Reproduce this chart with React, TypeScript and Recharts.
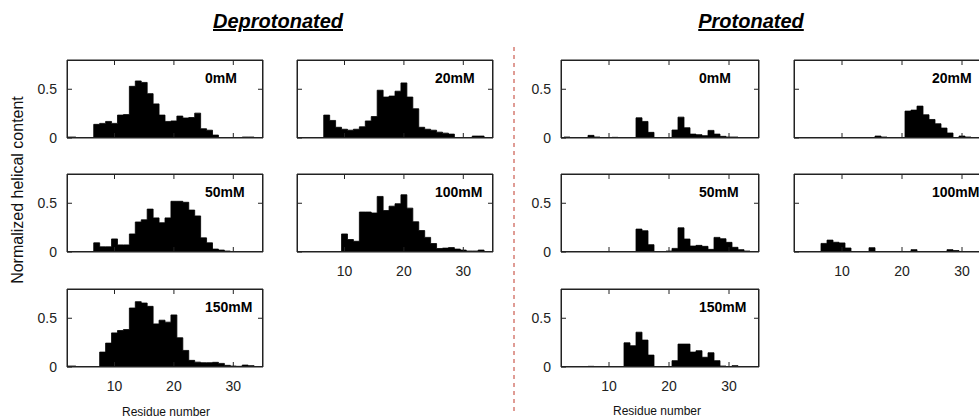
import React from "react";
import { AreaChart, Area, XAxis, YAxis } from "recharts";

const FONT = "'Liberation Sans', Arial, sans-serif";

// residue numbers, one bin per residue
const residues = [
  1, 2, 3, 4, 5, 6, 7, 8, 9, 10, 11, 12, 13, 14, 15, 16, 17, 18, 19, 20, 21, 22, 23, 24, 25, 26, 27, 28, 29,
  30, 31, 32, 33, 34, 35,
];

// deprotonated
const depro0 = [
  0, 0.01, 0.01, 0, 0, 0, 0.14, 0.15, 0.17, 0.15, 0.235, 0.24, 0.53, 0.585, 0.57, 0.455, 0.35, 0.235, 0.17,
  0.175, 0.225, 0.205, 0.21, 0.255, 0.095, 0.08, 0.03, 0, 0, 0, 0, 0.01, 0.01, 0, 0,
];
const depro20 = [
  0, 0, 0, 0, 0, 0, 0.235, 0.18, 0.11, 0.09, 0.08, 0.09, 0.115, 0.175, 0.22, 0.49, 0.42, 0.43, 0.48, 0.565,
  0.42, 0.3, 0.11, 0.09, 0.08, 0.06, 0.05, 0.04, 0, 0, 0, 0.02, 0.02, 0, 0,
];
const depro50 = [
  0, 0, 0, 0, 0, 0, 0.094, 0.053, 0.053, 0.134, 0.073, 0.073, 0.185, 0.308, 0.33, 0.44, 0.35, 0.3, 0.35, 0.52,
  0.52, 0.51, 0.43, 0.37, 0.145, 0.094, 0.03, 0.02, 0.01, 0, 0, 0, 0, 0, 0,
];
const depro100 = [
  0, 0, 0, 0, 0, 0, 0, 0, 0, 0.185, 0.128, 0.11, 0.41, 0.41, 0.4, 0.57, 0.425, 0.47, 0.495, 0.587, 0.45, 0.31,
  0.22, 0.15, 0.087, 0.036, 0.04, 0.045, 0.03, 0.02, 0.01, 0.01, 0.02, 0, 0,
];
const depro150 = [
  0, 0.01, 0.01, 0, 0, 0, 0, 0.153, 0.245, 0.35, 0.374, 0.384, 0.605, 0.67, 0.656, 0.622, 0.442, 0.48, 0.46,
  0.534, 0.3, 0.17, 0.068, 0.05, 0.044, 0.044, 0.048, 0.037, 0.017, 0.01, 0.007, 0.02, 0.014, 0, 0,
];

// protonated
const pro0 = [
  0, 0, 0.01, 0, 0, 0, 0.027, 0.01, 0, 0, 0.007, 0, 0, 0, 0.207, 0.17, 0.058, 0, 0, 0, 0.082, 0.214, 0.105,
  0.04, 0.034, 0.024, 0.078, 0.04, 0.017, 0.01, 0.01, 0, 0, 0, 0,
];
const pro20 = [
  0, 0, 0, 0, 0, 0, 0, 0, 0, 0, 0, 0, 0, 0, 0, 0.02, 0.01, 0, 0, 0, 0.276, 0.286, 0.327, 0.238, 0.19, 0.146,
  0.102, 0.051, 0, 0.02, 0.01, 0, 0, 0, 0,
];
const pro50 = [
  0, 0, 0, 0, 0, 0, 0, 0, 0, 0, 0, 0, 0, 0, 0.235, 0.218, 0.075, 0, 0, 0.01, 0.037, 0.248, 0.133, 0.061, 0.068,
  0.058, 0.027, 0.15, 0.136, 0.099, 0.048, 0.024, 0.01, 0, 0,
];
const pro100 = [
  0, 0, 0, 0, 0, 0, 0.088, 0.122, 0.1, 0.093, 0.041, 0, 0, 0, 0.044, 0, 0, 0, 0, 0, 0, 0.024, 0, 0, 0, 0, 0,
  0.024, 0.015, 0, 0, 0, 0, 0, 0,
];
const pro150 = [
  0, 0, 0, 0, 0, 0, 0.007, 0, 0, 0, 0, 0, 0.248, 0.218, 0.357, 0.276, 0.122, 0, 0, 0, 0.065, 0.235, 0.235,
  0.153, 0.167, 0.1, 0.146, 0.065, 0.01, 0, 0.014, 0, 0, 0, 0,
];

const xTicks = [10, 20, 30];
const yTicks = [0, 0.5];

const BOX_H = 78;
const Y_W = 40;
const X_H = 30;

// keeps the tick line but draws no label
const noLabel = () => <g />;

type PanelProps = {
  values: number[];
  label: string;
  left: number;
  top: number;
  boxW: number;
  yLabels: boolean;
  xLabels: boolean;
};

function Panel({ values, label, left, top, boxW, yLabels, xLabels }: PanelProps) {
  const rows = residues.map((r, i) => ({ res: r, v: values[i] }));
  const w = Y_W + boxW + 1;
  const h = 1 + BOX_H + X_H;
  const tickStyle = { fill: "#222", fontSize: 14, fontFamily: FONT };
  return (
    <div style={{ position: "absolute", left: left - Y_W, top: top - 1, width: w, height: h }}>
      <AreaChart width={w} height={h} data={rows} margin={{ top: 0, right: 0, bottom: 0, left: 0 }}>
        <XAxis
          xAxisId="b"
          dataKey="res"
          type="number"
          domain={[2, 35]}
          allowDataOverflow
          ticks={xTicks}
          tickSize={-5}
          tickMargin={19}
          height={X_H}
          stroke="#222"
          tick={xLabels ? tickStyle : noLabel}
        />
        <XAxis
          xAxisId="t"
          dataKey="res"
          type="number"
          orientation="top"
          domain={[2, 35]}
          allowDataOverflow
          ticks={xTicks}
          tickSize={-5}
          height={1}
          stroke="#222"
          tick={noLabel}
        />
        <YAxis
          yAxisId="l"
          type="number"
          domain={[0, 0.8]}
          allowDataOverflow
          ticks={yTicks}
          tickSize={-5}
          tickMargin={15}
          width={Y_W}
          stroke="#222"
          tick={yLabels ? tickStyle : noLabel}
        />
        <YAxis
          yAxisId="r"
          type="number"
          orientation="right"
          domain={[0, 0.8]}
          allowDataOverflow
          ticks={[0.5]}
          tickSize={-5}
          width={1}
          stroke="#222"
          tick={noLabel}
        />
        <Area
          xAxisId="b"
          yAxisId="l"
          dataKey="v"
          type="step"
          fill="#000"
          fillOpacity={1}
          stroke="#000"
          strokeWidth={0.8}
          isAnimationActive={false}
        />
      </AreaChart>
      <svg
        width={w}
        height={h}
        style={{ position: "absolute", left: 0, top: 0, pointerEvents: "none" }}
      >
        <rect x={Y_W + 0.5} y={1.5} width={boxW - 1} height={BOX_H - 1} fill="none" stroke="#222" strokeWidth={1} />
        <text
          x={Y_W + 138}
          y={1 + 17.5}
          dominantBaseline="central"
          fontFamily={FONT}
          fontWeight="bold"
          fontSize={14}
          fill="#000"
        >
          {label}
        </text>
      </svg>
    </div>
  );
}

const colL1 = 67;
const colL2 = 297;
const colR1 = 561;
const colR2 = 794;
const row1 = 60;
const row2 = 174;
const row3 = 289;

export default function App() {
  return (
    <div
      style={{
        position: "fixed",
        left: 0,
        top: 0,
        width: 979,
        height: 420,
        overflow: "hidden",
        background: "#fff",
      }}
    >
      <Panel values={depro0} label="0mM" left={colL1} top={row1} boxW={196} yLabels xLabels={false} />
      <Panel values={depro20} label="20mM" left={colL2} top={row1} boxW={196} yLabels={false} xLabels={false} />
      <Panel values={depro50} label="50mM" left={colL1} top={row2} boxW={196} yLabels xLabels={false} />
      <Panel values={depro100} label="100mM" left={colL2} top={row2} boxW={196} yLabels={false} xLabels />
      <Panel values={depro150} label="150mM" left={colL1} top={row3} boxW={196} yLabels xLabels />

      <Panel values={pro0} label="0mM" left={colR1} top={row1} boxW={198} yLabels xLabels={false} />
      <Panel values={pro20} label="20mM" left={colR2} top={row1} boxW={198} yLabels={false} xLabels={false} />
      <Panel values={pro50} label="50mM" left={colR1} top={row2} boxW={198} yLabels xLabels={false} />
      <Panel values={pro100} label="100mM" left={colR2} top={row2} boxW={198} yLabels={false} xLabels />
      <Panel values={pro150} label="150mM" left={colR1} top={row3} boxW={198} yLabels xLabels />

      <svg
        width={979}
        height={420}
        style={{ position: "absolute", left: 0, top: 0, pointerEvents: "none" }}
      >
        <text
          x={278}
          y={28}
          textAnchor="middle"
          fontFamily={FONT}
          fontWeight="bold"
          fontStyle="italic"
          fontSize={20}
          textDecoration="underline"
          fill="#000"
        >
          Deprotonated
        </text>
        <text
          x={751}
          y={28}
          textAnchor="middle"
          fontFamily={FONT}
          fontWeight="bold"
          fontStyle="italic"
          fontSize={20}
          textDecoration="underline"
          fill="#000"
        >
          Protonated
        </text>
        <line x1={514} y1={47} x2={514} y2={415} stroke="#c0392b" strokeWidth={1} strokeDasharray="4 4" />
        <text
          transform="translate(17,190) rotate(-90)"
          textAnchor="middle"
          dominantBaseline="central"
          fontFamily={FONT}
          fontSize={16}
          fill="#111"
        >
          Normalized helical content
        </text>
        <text x={166} y={412} textAnchor="middle" dominantBaseline="central" fontFamily={FONT} fontSize={12} fill="#111">
          Residue number
        </text>
        <text x={657} y={411} textAnchor="middle" dominantBaseline="central" fontFamily={FONT} fontSize={12} fill="#111">
          Residue number
        </text>
      </svg>
    </div>
  );
}
